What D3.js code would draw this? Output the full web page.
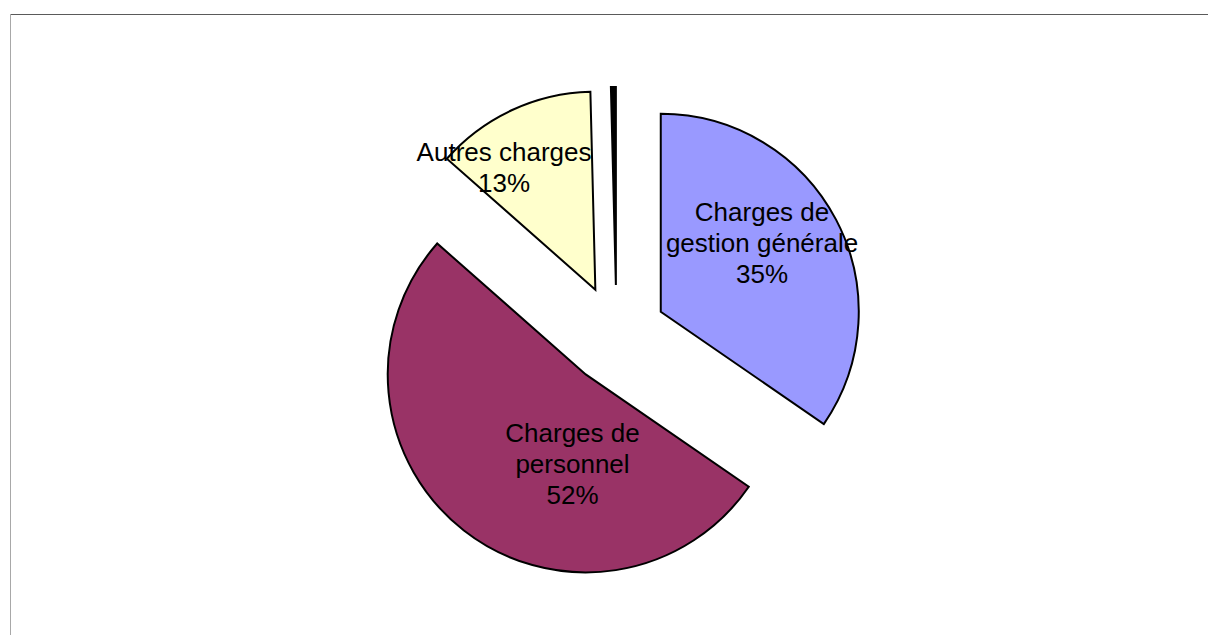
<!DOCTYPE html>
<html>
<head>
<meta charset="utf-8">
<script src="https://cdn.jsdelivr.net/npm/d3@7"></script>
<style>
  html, body { margin: 0; padding: 0; background: #fff; }
  svg { display: block; }
</style>
</head>
<body>
<svg id="chart" width="1208" height="635"></svg>
<script>
// ---- Data ----
const categories = ["Charges de gestion générale", "Charges de personnel", "Autres charges", "Autre"];
const values = [34.6, 51.9, 13.1, 0.4];
const labelLines = [["Charges de", "gestion générale", "35%"], ["Charges de", "personnel", "52%"], ["Autres charges", "13%"], []];
const colors = ["#9999FF", "#993366", "#FFFFCC", "#000000"];

// ---- Layout ----
const W = 1208, H = 635;
const cx = 616.5, cy = 335, R = 198, explode = 50;
const fontSize = 26, lineH = 31;
// label placement relative to each exploded slice (polar: angle in degrees, radius fraction)
const labelPolar = [[56, 0.617], [188.4, 0.458], [323.2, 0.77], null];

const svg = d3.select("#chart");

// frame
svg.append("line").attr("x1", 10).attr("x2", W).attr("y1", 14.5).attr("y2", 14.5)
  .attr("stroke", "#5a5a5a").attr("stroke-width", 1);
svg.append("line").attr("x1", 10.5).attr("x2", 10.5).attr("y1", 14).attr("y2", H)
  .attr("stroke", "#a8a8a8").attr("stroke-width", 1);

const data = categories.map((c, i) => ({ cat: c, value: values[i], color: colors[i], lines: labelLines[i], lp: labelPolar[i] }));

const pie = d3.pie().value(d => d.value).sort(null);
const arc = d3.arc().innerRadius(0).outerRadius(R);
const arcs = pie(data);

const g = svg.append("g").attr("transform", `translate(${cx},${cy})`);

const slices = g.selectAll("g.slice").data(arcs).join("g")
  .attr("class", "slice")
  .attr("transform", d => {
    const m = (d.startAngle + d.endAngle) / 2;
    return `translate(${explode * Math.sin(m)},${-explode * Math.cos(m)})`;
  });

slices.append("path")
  .attr("d", arc)
  .attr("fill", d => d.data.color)
  .attr("stroke", "#000")
  .attr("stroke-width", 2)
  .attr("stroke-linejoin", "miter");

slices.filter(d => d.data.lp).each(function (d) {
  const a = d.data.lp[0] * Math.PI / 180, rr = d.data.lp[1] * R;
  const x = rr * Math.sin(a), y = -rr * Math.cos(a);
  const n = d.data.lines.length;
  const t = d3.select(this).append("text")
    .attr("text-anchor", "middle")
    .attr("font-family", "Liberation Sans, Arial, sans-serif")
    .attr("font-size", fontSize)
    .attr("fill", "#000");
  d.data.lines.forEach((ln, k) => {
    t.append("tspan").attr("x", x)
      .attr("y", y + (k - (n - 1) / 2) * lineH + 9)
      .text(ln);
  });
});
</script>
</body>
</html>
